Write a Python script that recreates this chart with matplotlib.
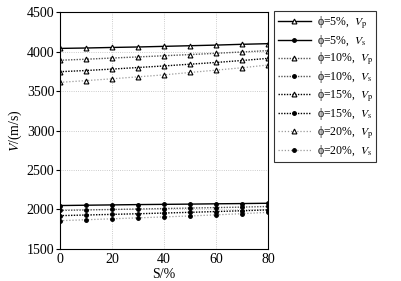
import numpy as np
import matplotlib.pyplot as plt

plt.rcParams['font.family'] = ['Liberation Serif', 'Noto Sans CJK SC']
plt.rcParams['mathtext.fontset'] = 'stix'

# saturation S (%)
S = [0, 10, 20, 30, 40, 50, 60, 70, 80]

# P-wave velocity (m/s)
vp_5 = [4040, 4045, 4052, 4058, 4066, 4074, 4082, 4092, 4100]
vp_10 = [3890, 3903, 3918, 3932, 3947, 3962, 3978, 3995, 4012]
vp_15 = [3745, 3760, 3778, 3798, 3818, 3840, 3862, 3887, 3914]
vp_20 = [3610, 3632, 3655, 3680, 3705, 3735, 3765, 3795, 3830]

# S-wave velocity (m/s)
vs_5 = [2050, 2054, 2058, 2062, 2065, 2068, 2072, 2075, 2079]
vs_10 = [1988, 1994, 2000, 2006, 2012, 2018, 2024, 2030, 2038]
vs_15 = [1922, 1930, 1938, 1946, 1955, 1964, 1974, 1984, 1995]
vs_20 = [1858, 1870, 1882, 1894, 1906, 1918, 1932, 1947, 1964]

fig = plt.figure(figsize=(4.02, 2.81), dpi=100)
ax = fig.add_axes([0.149, 0.114, 0.518, 0.843])

styles = [('-', 'black', 1.0), ((0, (1, 1)), '#555555', 1.0),
          ((0, (1, 1)), 'black', 1.0), ((0, (1, 1.5)), '#999999', 0.9)]
vps = [vp_5, vp_10, vp_15, vp_20]
vss = [vs_5, vs_10, vs_15, vs_20]
phis = [5, 10, 15, 20]

for phi, vp, vs, (ls, c, lw) in zip(phis, vps, vss, styles):
    ax.plot(S, vp, linestyle=ls, color=c, lw=lw, marker='^', ms=3.5,
            mfc='white', mec='black', mew=0.8,
            label='\u03d5=%d%%,  $V_{\\mathrm{p}}$' % phi)
    ax.plot(S, vs, linestyle=ls, color=c, lw=lw, marker='o', ms=2.5,
            mfc='black', mec='black',
            label='\u03d5=%d%%,  $V_{\\mathrm{s}}$' % phi)

ax.set_xlim(0, 80)
ax.set_ylim(1500, 4500)
ax.set_xticks([0, 20, 40, 60, 80])
ax.set_yticks(np.arange(1500, 4501, 500))
ax.grid(True, linestyle=':', color='#bbbbbb', lw=0.6)
ax.tick_params(axis='y', direction='out', labelsize=10, length=3, pad=1)
ax.tick_params(axis='x', direction='in', labelsize=10, length=0, pad=3)
ax.set_xlabel('S/%', fontsize=10, labelpad=1)
ax.set_ylabel('$V$/(m/s)', fontsize=10, labelpad=2)

leg = ax.legend(loc='upper left', bbox_to_anchor=(0.682, 0.962),
                bbox_transform=fig.transFigure, fontsize=8.5,
                frameon=True, fancybox=False, edgecolor='black',
                handlelength=2.8, handletextpad=0.5, labelspacing=0.18,
                borderpad=0.3, borderaxespad=0)
leg.get_frame().set_linewidth(0.8)

fig.savefig('out.png', dpi=100)
